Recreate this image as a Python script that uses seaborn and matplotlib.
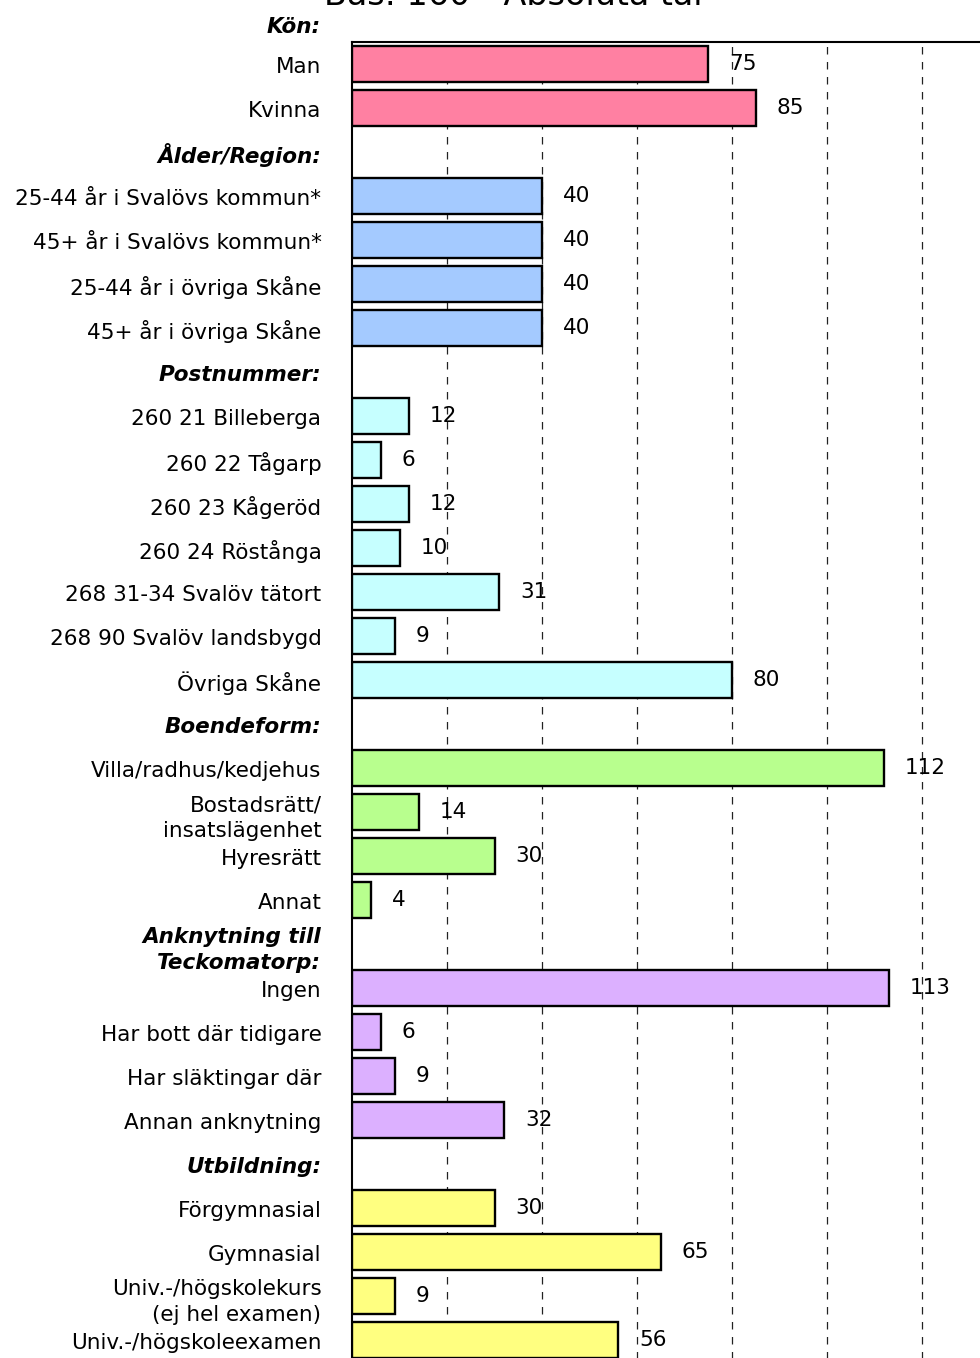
import numpy as np
import pandas as pd
import matplotlib
matplotlib.use("Agg")
import matplotlib.pyplot as plt
import seaborn as sns

# rows from top to bottom; headers have no value
labels = [
    "Kön:", "Man", "Kvinna",
    "Ålder/Region:", "25-44 år i Svalövs kommun*", "45+ år i Svalövs kommun*",
    "25-44 år i övriga Skåne", "45+ år i övriga Skåne",
    "Postnummer:", "260 21 Billeberga", "260 22 Tågarp", "260 23 Kågeröd",
    "260 24 Röstånga", "268 31-34 Svalöv tätort", "268 90 Svalöv landsbygd", "Övriga Skåne",
    "Boendeform:", "Villa/radhus/kedjehus", "Bostadsrätt/\ninsatslägenhet", "Hyresrätt", "Annat",
    "Anknytning till\nTeckomatorp:", "Ingen", "Har bott där tidigare", "Har släktingar där",
    "Annan anknytning",
    "Utbildning:", "Förgymnasial", "Gymnasial", "Univ.-/högskolekurs\n(ej hel examen)",
    "Univ.-/högskoleexamen",
]
values = [
    None, 75, 85,
    None, 40, 40, 40, 40,
    None, 12, 6, 12, 10, 31, 9, 80,
    None, 112, 14, 30, 4,
    None, 113, 6, 9, 32,
    None, 30, 65, 9, 56,
]
groups = [
    None, "kon", "kon",
    None, "alder", "alder", "alder", "alder",
    None, "post", "post", "post", "post", "post", "post", "post",
    None, "boende", "boende", "boende", "boende",
    None, "ankn", "ankn", "ankn", "ankn",
    None, "utb", "utb", "utb", "utb",
]
group_colors = {
    "kon": "#FF80A2",
    "alder": "#A4CAFF",
    "post": "#C6FFFF",
    "boende": "#B8FF8E",
    "ankn": "#DCB0FF",
    "utb": "#FFFF80",
}
title = "Bas: 160 - Absoluta tal"

pos = np.arange(len(labels))
df = pd.DataFrame({"pos": pos, "label": labels, "value": values, "group": groups})
bars = df.dropna(subset=["value"]).copy()
bars["value"] = bars["value"].astype(float)

sns.set_style("white")
plt.rcParams["font.family"] = ["DejaVu Sans"]
plt.rcParams["text.color"] = "black"
plt.rcParams["ytick.color"] = "black"
fs = 15.5

W, H = 980, 1358
fig = plt.figure(figsize=(W / 100, H / 100), dpi=100)
px = 4.75  # pixels per unit
xmax = 140
ax_left, ax_top = 352, 42
ax_w = xmax * px
ax_h = 30 * 44
ax = fig.add_axes([ax_left / W, 1 - (ax_top + ax_h) / H, ax_w / W, ax_h / H])

sns.barplot(data=bars, x="value", y="pos", hue="group", orient="h", native_scale=True,
            palette=group_colors, saturation=1, dodge=False, width=0.84, edgecolor="black",
            linewidth=1.7, legend=False, ax=ax, zorder=3)

ax.set_xlim(0, xmax)
ax.set_ylim(30.5, 0.5)
ax.set_xticks([])
for gx in [20, 40, 60, 80, 100, 120]:
    ax.axvline(gx, color="#222222", lw=0.9, ls=(0, (6, 6)), zorder=1)

for c in ax.containers:
    ax.bar_label(c, fmt="%d", padding=15, fontsize=fs, zorder=4)

ax.set_yticks(pos[1:] + 0.03)
ax.set_yticklabels(labels[1:], fontsize=fs, ha="right", multialignment="right",
                   linespacing=1.38)
ax.tick_params(axis="y", length=0, pad=22)
for t, g in zip(ax.get_yticklabels(), groups[1:]):
    if g is None:
        t.set_fontweight("bold")
        t.set_fontstyle("italic")
ax.text(-31 / px, 0.15, labels[0], ha="right", va="center", fontsize=fs,
        fontweight="bold", fontstyle="italic", clip_on=False)

ax.set_xlabel("")
ax.set_ylabel("")
for s in ["left", "top"]:
    ax.spines[s].set_visible(True)
    ax.spines[s].set_color("black")
    ax.spines[s].set_linewidth(1.5)
ax.spines["right"].set_visible(False)
ax.spines["bottom"].set_visible(False)

fig.text(513 / W, 1 - 5 / H, title, ha="center", va="baseline", fontsize=24)

fig.savefig("out.png", dpi=100)
